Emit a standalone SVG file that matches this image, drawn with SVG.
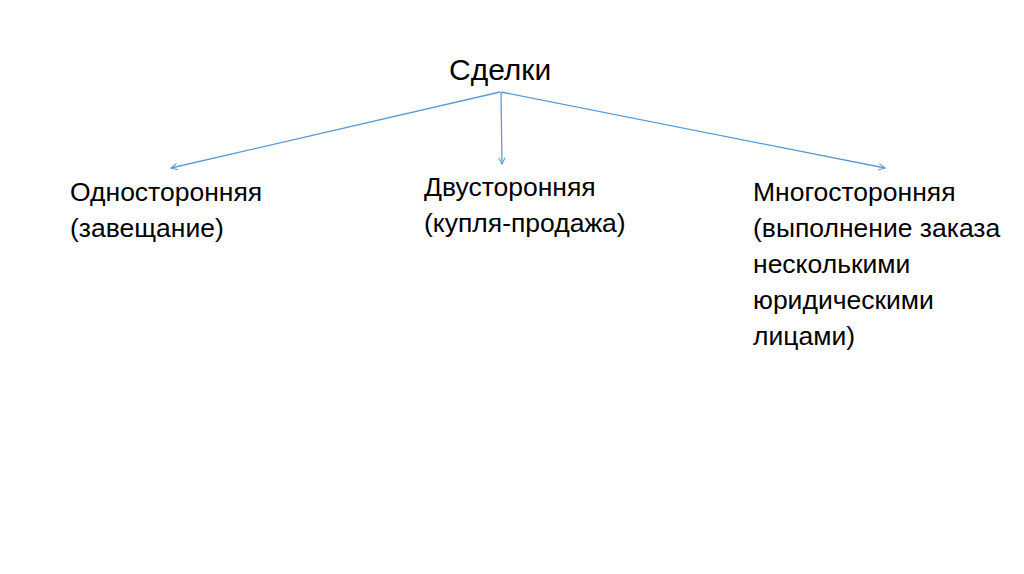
<svg xmlns="http://www.w3.org/2000/svg" width="1024" height="574" viewBox="0 0 1024 574">
<style>
text{font-family:"Liberation Sans",Arial,sans-serif;fill:#000;font-size:26.5px}
.title{font-size:30px}
.c{stroke:#5B9BD5;stroke-width:1.3;fill:none}
</style>
<defs>
<marker id="a" viewBox="0 0 10 10" refX="9" refY="5" markerWidth="8" markerHeight="8" orient="auto" markerUnits="userSpaceOnUse">
<path d="M1,1 L9,5 L1,9" fill="none" stroke="#5B9BD5" stroke-width="1.3"/>
</marker>
</defs>
<rect width="1024" height="574" fill="#fff"/>
<g id="root"><text class="title" x="449" y="80">Сделки</text></g>
<g id="connectors">
<line class="c" x1="500" y1="92" x2="171" y2="168" marker-end="url(#a)"/>
<line class="c" x1="501" y1="92" x2="502" y2="164" marker-end="url(#a)"/>
<line class="c" x1="501" y1="92" x2="885" y2="168" marker-end="url(#a)"/>
</g>
<g id="n1"><text x="70" y="201">Односторонняя</text><text x="70" y="237">(завещание)</text></g>
<g id="n2"><text x="424" y="196">Двусторонняя</text><text x="424" y="232">(купля-продажа)</text></g>
<g id="n3"><text x="753" y="201">Многосторонняя</text><text x="753" y="237">(выполнение заказа</text><text x="753" y="273">несколькими</text><text x="753" y="309">юридическими</text><text x="753" y="345">лицами)</text></g>
</svg>
